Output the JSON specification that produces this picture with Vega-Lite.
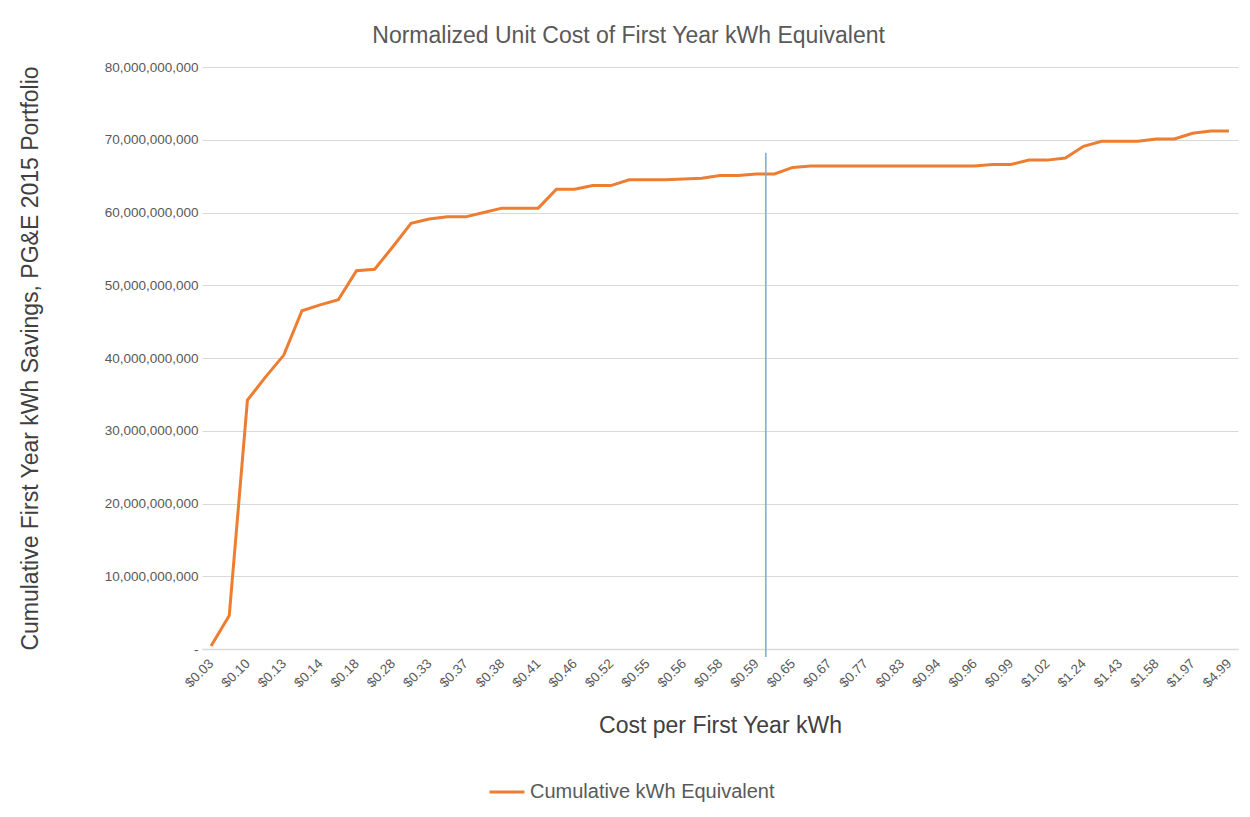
{
  "$schema": "https://vega.github.io/schema/vega-lite/v6.json",
  "width": 1036,
  "height": 582,
  "autosize": "none",
  "padding": {"left": 202, "top": 67, "right": 12, "bottom": 168},
  "background": "white",
  "config": {
    "font": "Liberation Sans",
    "view": {"stroke": null}
  },
  "title": {
    "text": "Normalized Unit Cost of First Year kWh Equivalent",
    "anchor": "middle",
    "frame": "bounds",
    "fontSize": 23,
    "fontWeight": "normal",
    "color": "#595959",
    "offset": 12
  },
  "datasets": {
    "curve": [
      {"cost": "$0.03", "kwh": 400000000, "series": "Cumulative kWh Equivalent"},
      {"cost": "$0.07", "kwh": 4600000000, "series": "Cumulative kWh Equivalent"},
      {"cost": "$0.10", "kwh": 34200000000, "series": "Cumulative kWh Equivalent"},
      {"cost": "$0.12", "kwh": 37400000000, "series": "Cumulative kWh Equivalent"},
      {"cost": "$0.13", "kwh": 40400000000, "series": "Cumulative kWh Equivalent"},
      {"cost": "$0.135", "kwh": 46500000000, "series": "Cumulative kWh Equivalent"},
      {"cost": "$0.14", "kwh": 47300000000, "series": "Cumulative kWh Equivalent"},
      {"cost": "$0.16", "kwh": 48000000000, "series": "Cumulative kWh Equivalent"},
      {"cost": "$0.18", "kwh": 52000000000, "series": "Cumulative kWh Equivalent"},
      {"cost": "$0.22", "kwh": 52200000000, "series": "Cumulative kWh Equivalent"},
      {"cost": "$0.28", "kwh": 55300000000, "series": "Cumulative kWh Equivalent"},
      {"cost": "$0.31", "kwh": 58500000000, "series": "Cumulative kWh Equivalent"},
      {"cost": "$0.33", "kwh": 59100000000, "series": "Cumulative kWh Equivalent"},
      {"cost": "$0.35", "kwh": 59400000000, "series": "Cumulative kWh Equivalent"},
      {"cost": "$0.37", "kwh": 59400000000, "series": "Cumulative kWh Equivalent"},
      {"cost": "$0.375", "kwh": 60000000000, "series": "Cumulative kWh Equivalent"},
      {"cost": "$0.38", "kwh": 60600000000, "series": "Cumulative kWh Equivalent"},
      {"cost": "$0.40", "kwh": 60600000000, "series": "Cumulative kWh Equivalent"},
      {"cost": "$0.41", "kwh": 60600000000, "series": "Cumulative kWh Equivalent"},
      {"cost": "$0.44", "kwh": 63200000000, "series": "Cumulative kWh Equivalent"},
      {"cost": "$0.46", "kwh": 63200000000, "series": "Cumulative kWh Equivalent"},
      {"cost": "$0.50", "kwh": 63700000000, "series": "Cumulative kWh Equivalent"},
      {"cost": "$0.52", "kwh": 63700000000, "series": "Cumulative kWh Equivalent"},
      {"cost": "$0.54", "kwh": 64500000000, "series": "Cumulative kWh Equivalent"},
      {"cost": "$0.55", "kwh": 64500000000, "series": "Cumulative kWh Equivalent"},
      {"cost": "$0.555", "kwh": 64500000000, "series": "Cumulative kWh Equivalent"},
      {"cost": "$0.56", "kwh": 64600000000, "series": "Cumulative kWh Equivalent"},
      {"cost": "$0.57", "kwh": 64700000000, "series": "Cumulative kWh Equivalent"},
      {"cost": "$0.58", "kwh": 65100000000, "series": "Cumulative kWh Equivalent"},
      {"cost": "$0.585", "kwh": 65100000000, "series": "Cumulative kWh Equivalent"},
      {"cost": "$0.59", "kwh": 65300000000, "series": "Cumulative kWh Equivalent"},
      {"cost": "$0.62", "kwh": 65300000000, "series": "Cumulative kWh Equivalent"},
      {"cost": "$0.65", "kwh": 66200000000, "series": "Cumulative kWh Equivalent"},
      {"cost": "$0.66", "kwh": 66400000000, "series": "Cumulative kWh Equivalent"},
      {"cost": "$0.67", "kwh": 66400000000, "series": "Cumulative kWh Equivalent"},
      {"cost": "$0.72", "kwh": 66400000000, "series": "Cumulative kWh Equivalent"},
      {"cost": "$0.77", "kwh": 66400000000, "series": "Cumulative kWh Equivalent"},
      {"cost": "$0.80", "kwh": 66400000000, "series": "Cumulative kWh Equivalent"},
      {"cost": "$0.83", "kwh": 66400000000, "series": "Cumulative kWh Equivalent"},
      {"cost": "$0.88", "kwh": 66400000000, "series": "Cumulative kWh Equivalent"},
      {"cost": "$0.94", "kwh": 66400000000, "series": "Cumulative kWh Equivalent"},
      {"cost": "$0.95", "kwh": 66400000000, "series": "Cumulative kWh Equivalent"},
      {"cost": "$0.96", "kwh": 66400000000, "series": "Cumulative kWh Equivalent"},
      {"cost": "$0.98", "kwh": 66600000000, "series": "Cumulative kWh Equivalent"},
      {"cost": "$0.99", "kwh": 66600000000, "series": "Cumulative kWh Equivalent"},
      {"cost": "$1.00", "kwh": 67200000000, "series": "Cumulative kWh Equivalent"},
      {"cost": "$1.02", "kwh": 67200000000, "series": "Cumulative kWh Equivalent"},
      {"cost": "$1.10", "kwh": 67500000000, "series": "Cumulative kWh Equivalent"},
      {"cost": "$1.24", "kwh": 69100000000, "series": "Cumulative kWh Equivalent"},
      {"cost": "$1.33", "kwh": 69800000000, "series": "Cumulative kWh Equivalent"},
      {"cost": "$1.43", "kwh": 69800000000, "series": "Cumulative kWh Equivalent"},
      {"cost": "$1.50", "kwh": 69800000000, "series": "Cumulative kWh Equivalent"},
      {"cost": "$1.58", "kwh": 70100000000, "series": "Cumulative kWh Equivalent"},
      {"cost": "$1.75", "kwh": 70100000000, "series": "Cumulative kWh Equivalent"},
      {"cost": "$1.97", "kwh": 70900000000, "series": "Cumulative kWh Equivalent"},
      {"cost": "$3.00", "kwh": 71200000000, "series": "Cumulative kWh Equivalent"},
      {"cost": "$4.99", "kwh": 71200000000, "series": "Cumulative kWh Equivalent"}
    ],
    "marker": [
      {"cost": "$0.59", "top": 68200000000, "bottom": -1100000000}
    ]
  },
  "layer": [
    {
      "data": {"name": "curve"},
      "mark": {"type": "line", "strokeWidth": 3, "strokeJoin": "miter"},
      "encoding": {
        "x": {
          "field": "cost",
          "type": "ordinal",
          "sort": null,
          "scale": {"type": "point", "padding": 0.5},
          "axis": {
            "values": ["$0.03", "$0.10", "$0.13", "$0.14", "$0.18", "$0.28", "$0.33", "$0.37", "$0.38", "$0.41", "$0.46", "$0.52", "$0.55", "$0.56", "$0.58", "$0.59", "$0.65", "$0.67", "$0.77", "$0.83", "$0.94", "$0.96", "$0.99", "$1.02", "$1.24", "$1.43", "$1.58", "$1.97", "$4.99"],
            "labelAngle": -45,
            "labelAlign": "right",
            "labelBaseline": "middle",
            "labelFontSize": 13.5,
            "labelColor": "#595959",
            "labelPadding": 12,
            "ticks": false,
            "domainColor": "#d9d9d9",
            "domainWidth": 1.5,
            "grid": false,
            "title": "Cost per First Year kWh",
            "titleFontSize": 23,
            "titleFontWeight": "normal",
            "titleColor": "#404040",
            "titlePadding": 25
          }
        },
        "y": {
          "field": "kwh",
          "type": "quantitative",
          "scale": {"domain": [0, 80000000000], "nice": false},
          "axis": {
            "values": [0, 10000000000, 20000000000, 30000000000, 40000000000, 50000000000, 60000000000, 70000000000, 80000000000],
            "labelExpr": "datum.value == 0 ? '-' : format(datum.value, ',')",
            "labelFontSize": 13.5,
            "labelColor": "#595959",
            "labelPadding": 4,
            "ticks": false,
            "domain": false,
            "gridColor": "#d9d9d9",
            "gridWidth": 1.2,
            "title": "Cumulative First Year kWh Savings, PG&E 2015 Portfolio",
            "titleFontSize": 23,
            "titleFontWeight": "normal",
            "titleColor": "#404040",
            "titlePadding": 62
          }
        },
        "color": {
          "field": "series",
          "type": "nominal",
          "scale": {"range": ["#ED7D31"]},
          "legend": {
            "title": null,
            "orient": "none",
            "legendX": 286,
            "legendY": 706,
            "symbolType": "stroke",
            "symbolStrokeWidth": 3,
            "symbolSize": 1225,
            "labelFontSize": 20,
            "labelLimit": 0,
            "labelColor": "#595959",
            "labelOffset": 4
          }
        }
      }
    },
    {
      "data": {"name": "marker"},
      "mark": {"type": "rule", "color": "#7BA7D7", "strokeWidth": 1.5, "xOffset": 9.5},
      "encoding": {
        "x": {"field": "cost", "type": "ordinal", "sort": null},
        "y": {"field": "top", "type": "quantitative"},
        "y2": {"field": "bottom"}
      }
    }
  ]
}
